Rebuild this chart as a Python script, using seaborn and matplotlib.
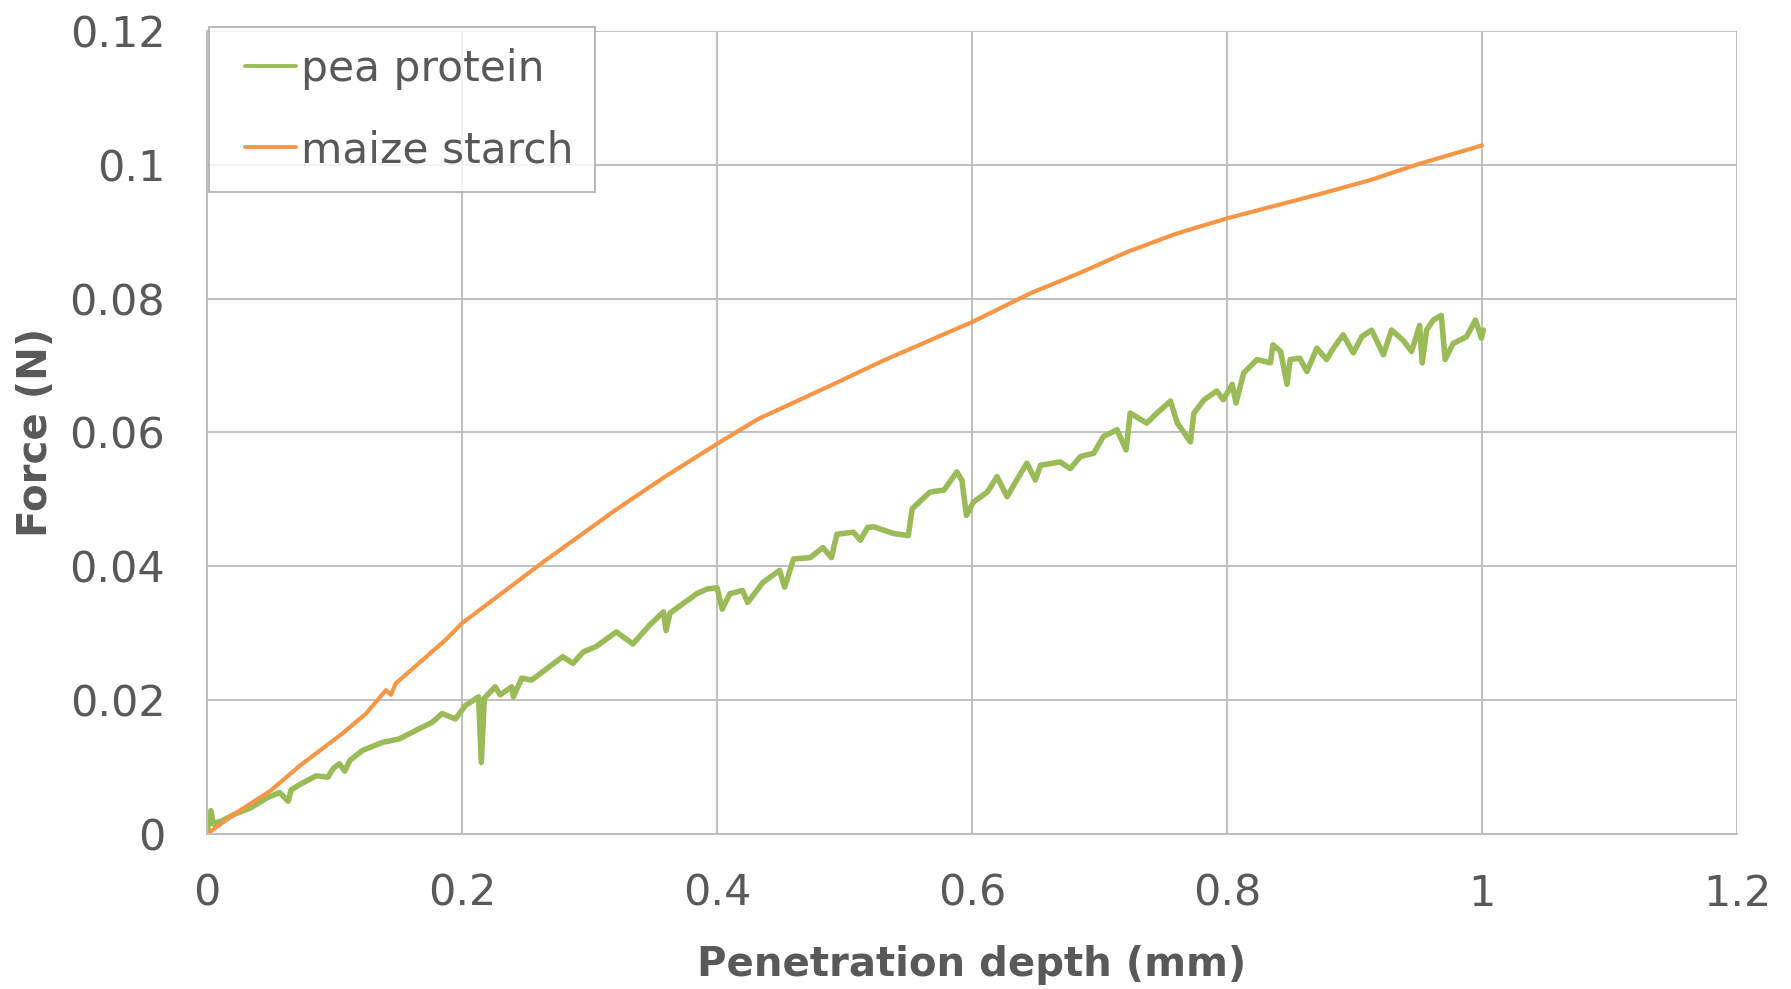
import matplotlib
matplotlib.use("Agg")
import matplotlib.pyplot as plt
from matplotlib.legend_handler import HandlerLine2D
from matplotlib.lines import Line2D
import numpy as np
import pandas as pd
import seaborn as sns

# Penetration depth (mm) and force (N) readings
pea_depth = [0.000, 0.003, 0.005, 0.012, 0.022, 0.034, 0.047, 0.057, 0.0636, 0.066,
             0.0727, 0.0857, 0.0948, 0.099, 0.1039, 0.108, 0.112, 0.122, 0.1377, 0.1506,
             0.166, 0.1766, 0.1844, 0.1948, 0.2026, 0.213, 0.2151, 0.2175, 0.226, 0.2299,
             0.239, 0.2403, 0.2468, 0.2545, 0.265, 0.279, 0.287, 0.295, 0.305, 0.321,
             0.334, 0.347, 0.358, 0.360, 0.363, 0.371, 0.384, 0.392, 0.400, 0.404,
             0.410, 0.420, 0.424, 0.436, 0.449, 0.453, 0.460, 0.473, 0.483, 0.4897,
             0.494, 0.507, 0.5124, 0.518, 0.523, 0.5386, 0.550, 0.553, 0.567, 0.578,
             0.588, 0.592, 0.5956, 0.601, 0.612, 0.6196, 0.6275, 0.635, 0.643, 0.6497,
             0.6536, 0.669, 0.677, 0.685, 0.6954, 0.703, 0.7137, 0.7208, 0.724, 0.737,
             0.745, 0.7556, 0.761, 0.7712, 0.774, 0.782, 0.792, 0.797, 0.804, 0.807,
             0.813, 0.8235, 0.834, 0.836, 0.842, 0.847, 0.8495, 0.857, 0.8626, 0.8704,
             0.878, 0.8834, 0.891, 0.899, 0.9056, 0.9134, 0.9226, 0.929, 0.938, 0.9447,
             0.951, 0.953, 0.9565, 0.9617, 0.968, 0.971, 0.9773, 0.9877, 0.9948, 0.9995,
             1.001]
pea_force = [0.0003, 0.0035, 0.0015, 0.0020, 0.0030, 0.0039, 0.0054, 0.0062, 0.0049, 0.0066,
             0.0074, 0.0087, 0.0085, 0.0098, 0.0105, 0.0094, 0.0110, 0.0125, 0.0137, 0.0142,
             0.0157, 0.0167, 0.0180, 0.0172, 0.0192, 0.0205, 0.0107, 0.0203, 0.0220, 0.0208,
             0.0220, 0.0205, 0.0233, 0.0230, 0.0245, 0.0265, 0.0255, 0.0272, 0.0280, 0.0302,
             0.0284, 0.0312, 0.0332, 0.0304, 0.0330, 0.0341, 0.0359, 0.0366, 0.0368, 0.0336,
             0.0359, 0.0364, 0.0346, 0.0376, 0.0394, 0.0369, 0.0411, 0.0413, 0.0428, 0.0413,
             0.0448, 0.0451, 0.0439, 0.0458, 0.0459, 0.0449, 0.0446, 0.0486, 0.0511, 0.0514,
             0.0541, 0.0529, 0.0476, 0.0496, 0.0511, 0.0534, 0.0504, 0.0529, 0.0554, 0.0529,
             0.0551, 0.0556, 0.0546, 0.0564, 0.0569, 0.0594, 0.0604, 0.0574, 0.0629, 0.0614,
             0.0629, 0.0647, 0.0614, 0.0586, 0.0629, 0.0649, 0.0662, 0.0649, 0.0672, 0.0644,
             0.0689, 0.0709, 0.0704, 0.0731, 0.0721, 0.0672, 0.0709, 0.0711, 0.0691, 0.0726,
             0.0709, 0.0726, 0.0746, 0.0719, 0.0743, 0.0753, 0.0716, 0.0753, 0.0738, 0.0721,
             0.0760, 0.0704, 0.0753, 0.0768, 0.0775, 0.0709, 0.0733, 0.0743, 0.0768, 0.0741,
             0.0753]

maize_depth = [0.000, 0.0208, 0.050, 0.0727, 0.106, 0.1247, 0.1403, 0.1442, 0.148, 0.187,
               0.200, 0.2626, 0.321, 0.360, 0.400, 0.432, 0.4933, 0.531, 0.600, 0.6457,
               0.684, 0.722, 0.760, 0.800, 0.836, 0.874, 0.912, 0.950, 1.000]
maize_force = [0.0000, 0.0029, 0.0065, 0.0102, 0.0150, 0.0180, 0.0215, 0.0208, 0.0225, 0.0290,
               0.0315, 0.0405, 0.0485, 0.0535, 0.0583, 0.0620, 0.0674, 0.0708, 0.0765, 0.0808,
               0.0838, 0.0870, 0.0897, 0.0920, 0.0938, 0.0957, 0.0977, 0.1001, 0.1029]

series_names = ["pea protein", "maize starch"]
series_colors = ["#9BBB59", "#F79646"]
x_ticks = [0, 0.2, 0.4, 0.6, 0.8, 1, 1.2]
x_tick_labels = ["0", "0.2", "0.4", "0.6", "0.8", "1", "1.2"]
y_ticks = [0, 0.02, 0.04, 0.06, 0.08, 0.1, 0.12]
y_tick_labels = ["0", "0.02", "0.04", "0.06", "0.08", "0.1", "0.12"]

pea = pd.DataFrame({"depth": pea_depth, "force": pea_force})
maize = pd.DataFrame({"depth": maize_depth, "force": maize_force})

sns.set_theme(style="whitegrid")
plt.rcParams["font.family"] = ["DejaVu Sans"]

text_grey = "#595959"
grid_grey = "#BFBFBF"


class InsetLineHandler(HandlerLine2D):
    """Legend line drawn only over the right-hand part of the handle box."""

    def __init__(self, fraction=0.78, **kw):
        super().__init__(**kw)
        self.fraction = fraction

    def create_artists(self, legend, orig_handle, xdescent, ydescent,
                       width, height, fontsize, trans):
        artists = super().create_artists(legend, orig_handle, xdescent, ydescent,
                                         width, height, fontsize, trans)
        for art in artists:
            if isinstance(art, Line2D):
                xd = np.asarray(art.get_xdata(), dtype=float)
                if xd.size >= 2:
                    x0, x1 = xd.min(), xd.max()
                    art.set_xdata(np.linspace(x1 - (x1 - x0) * self.fraction,
                                              x1, xd.size))
        return artists


fig = plt.figure(figsize=(17.91, 9.89), dpi=100)
ax = fig.add_axes([0.1156, 0.1567, 0.8543, 0.812])

sns.lineplot(data=pea, x="depth", y="force", ax=ax, color=series_colors[0],
             linewidth=4.0, sort=False, estimator=None, label=series_names[0])
sns.lineplot(data=maize, x="depth", y="force", ax=ax, color=series_colors[1],
             linewidth=3.0, sort=False, estimator=None, label=series_names[1])

ax.set_xlim(0, 1.2)
ax.set_ylim(0, 0.12)
ax.set_xticks(x_ticks)
ax.set_xticklabels(x_tick_labels)
ax.set_yticks(y_ticks)
ax.set_yticklabels(y_tick_labels)
ax.tick_params(axis="both", labelsize=31, colors=text_grey, length=0)
ax.tick_params(axis="x", pad=28)
ax.tick_params(axis="y", pad=30)

ax.grid(True, color=grid_grey, linewidth=1.4)
for side in ["top", "right"]:
    ax.spines[side].set_visible(False)
for side in ["left", "bottom"]:
    ax.spines[side].set_color(grid_grey)
    ax.spines[side].set_linewidth(1.4)

ax.set_xlabel("Penetration depth (mm)", fontsize=29, fontweight="bold",
              color=text_grey, labelpad=22)
ax.set_ylabel("Force (N)", fontsize=29, fontweight="bold", color=text_grey,
              labelpad=10)

handles, labels = ax.get_legend_handles_labels()
leg = ax.legend(handles, labels, loc="upper left",
                bbox_to_anchor=(209 / 1791, 1 - 27 / 989),
                bbox_transform=fig.transFigure, fontsize=30.5, frameon=True,
                fancybox=False, handlelength=1.55, handletextpad=0.12,
                labelspacing=0.92, borderpad=0.5, borderaxespad=0,
                handler_map={h: InsetLineHandler() for h in handles})
leg.get_frame().set_edgecolor("#A6A6A6")
leg.get_frame().set_linewidth(1.4)
for txt in leg.get_texts():
    txt.set_color(text_grey)
for line in leg.get_lines():
    line.set_linewidth(2.8)

fig.savefig("out.png", dpi=100, facecolor="white")
